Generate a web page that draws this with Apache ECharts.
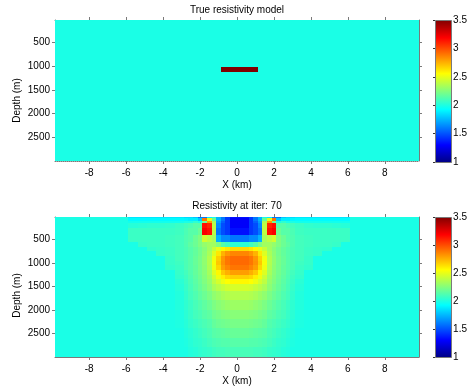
<!DOCTYPE html>
<html><head><meta charset="utf-8">
<script src="https://cdn.jsdelivr.net/npm/echarts@6/dist/echarts.min.js"></script>
<style>html,body{margin:0;padding:0;background:#fff}#c{width:470px;height:391px}</style>
</head><body><div id="c"></div>
<script>
// ---------- data ----------
const xTickValues = [-8, -6, -4, -2, 0, 2, 4, 6, 8];
const depthTickValues = [500, 1000, 1500, 2000, 2500];
const colorbarTickValues = [1, 1.5, 2, 2.5, 3, 3.5];
const xDomain = [-9.85, 9.85];
const depthDomain = [19, 3009];
const resRange = [1, 3.5];
const backgroundRes = 2.0;
// true model: anomalous block [x0, x1, depth0, depth1, value]
const trueBlock = [-0.875, 1.125, 1025, 1115, 3.5];

// inverted model mesh (km / m) and cell values (rows = depth, cols = x)
const invXEdges = [-5.875,-5.375,-4.875,-4.375,-3.875,-3.375,-2.875,-2.625,-2.375,-2.125,-1.875,-1.625,-1.375,-1.125,-0.875,-0.625,-0.375,-0.125,0.125,0.375,0.625,0.875,1.125,1.375,1.625,1.875,2.125,2.375,2.625,2.875,3.125,3.625,4.125,4.625,5.125,5.625,6.125];
const invDepthEdges = [0,50,100,150,250,400,550,650,750,850,950,1050,1150,1250,1350,1450,1600,1800,2000,2200,2400,2600,2800,3000];
const invValues = [
 [1.88,1.88,1.88,1.88,1.88,1.88,1.85,1.85,1.8,1.6,1.6,1.9,2.0,1.75,1.6,1.45,1.35,1.35, 1.35,1.35,1.45,1.6,1.75,2.0,1.9,1.6,1.6,1.8,1.85,1.85,1.88,1.88,1.88,1.88,1.88,1.88],
 [1.93,1.93,1.93,1.93,1.93,1.93,1.92,1.9,1.9,1.8,2.9,2.5,2.2,1.75,1.6,1.45,1.3,1.3, 1.3,1.3,1.45,1.6,1.75,2.2,2.5,2.9,1.8,1.9,1.9,1.92,1.93,1.93,1.93,1.93,1.93,1.93],
 [1.98,1.98,1.98,1.98,1.98,1.98,2.0,2.0,2.05,2.0,2.2,2.8,2.35,1.7,1.55,1.45,1.3,1.3, 1.3,1.3,1.45,1.55,1.7,2.35,2.8,2.2,2.0,2.05,2.0,2.0,1.98,1.98,1.98,1.98,1.98,1.98],
 [2.03,2.04,2.05,2.05,2.06,2.08,2.1,2.12,2.15,2.15,3.15,3.1,2.4,1.65,1.5,1.45,1.3,1.3, 1.3,1.3,1.45,1.5,1.65,2.4,3.1,3.15,2.15,2.15,2.12,2.1,2.08,2.06,2.05,2.05,2.04,2.03],
 [2.08,2.08,2.08,2.08,2.08,2.09,2.12,2.15,2.15,2.2,3.2,3.15,2.4,1.6,1.5,1.45,1.35,1.35, 1.35,1.35,1.45,1.5,1.6,2.4,3.15,3.2,2.2,2.15,2.15,2.12,2.09,2.08,2.08,2.08,2.08,2.08],
 [2.08,2.08,2.08,2.08,2.09,2.1,2.13,2.15,2.2,2.25,2.45,2.4,2.35,1.75,1.65,1.65,1.6,1.6, 1.6,1.6,1.65,1.65,1.75,2.35,2.4,2.45,2.25,2.2,2.15,2.13,2.1,2.09,2.08,2.08,2.08,2.08],
 [2.0,2.07,2.08,2.08,2.09,2.1,2.13,2.17,2.2,2.25,2.3,2.33,2.33,2.25,2.15,2.1,2.05,2.05, 2.05,2.05,2.1,2.15,2.25,2.33,2.33,2.3,2.25,2.2,2.17,2.13,2.1,2.09,2.08,2.08,2.07,2.0],
 [2.0,2.0,2.06,2.07,2.08,2.1,2.12,2.15,2.18,2.22,2.27,2.33,2.42,2.5,2.58,2.62,2.65,2.65, 2.65,2.65,2.62,2.58,2.5,2.42,2.33,2.27,2.22,2.18,2.15,2.12,2.1,2.08,2.07,2.06,2.0,2.0],
 [2.0,2.0,2.0,2.07,2.08,2.1,2.12,2.15,2.18,2.22,2.28,2.35,2.48,2.62,2.75,2.82,2.86,2.86, 2.86,2.86,2.82,2.75,2.62,2.48,2.35,2.28,2.22,2.18,2.15,2.12,2.1,2.08,2.07,2.0,2.0,2.0],
 [2.0,2.0,2.0,2.0,2.07,2.1,2.12,2.15,2.19,2.23,2.29,2.37,2.53,2.68,2.82,2.9,2.93,2.93, 2.93,2.93,2.9,2.82,2.68,2.53,2.37,2.29,2.23,2.19,2.15,2.12,2.1,2.07,2.0,2.0,2.0,2.0],
 [2.0,2.0,2.0,2.0,2.07,2.09,2.12,2.15,2.19,2.23,2.29,2.37,2.54,2.7,2.83,2.9,2.93,2.93, 2.93,2.93,2.9,2.83,2.7,2.54,2.37,2.29,2.23,2.19,2.15,2.12,2.09,2.07,2.0,2.0,2.0,2.0],
 [2.0,2.0,2.0,2.0,2.06,2.08,2.12,2.15,2.18,2.23,2.28,2.36,2.52,2.66,2.8,2.86,2.9,2.9, 2.9,2.9,2.86,2.8,2.66,2.52,2.36,2.28,2.23,2.18,2.15,2.12,2.08,2.06,2.0,2.0,2.0,2.0],
 [2.0,2.0,2.0,2.0,2.0,2.07,2.1,2.14,2.18,2.22,2.27,2.34,2.48,2.58,2.7,2.76,2.8,2.8, 2.8,2.8,2.76,2.7,2.58,2.48,2.34,2.27,2.22,2.18,2.14,2.1,2.07,2.0,2.0,2.0,2.0,2.0],
 [2.0,2.0,2.0,2.0,2.0,2.06,2.09,2.13,2.17,2.21,2.26,2.32,2.43,2.52,2.6,2.66,2.68,2.68, 2.68,2.68,2.66,2.6,2.52,2.43,2.32,2.26,2.21,2.17,2.13,2.09,2.06,2.0,2.0,2.0,2.0,2.0],
 [2.0,2.0,2.0,2.0,2.0,2.04,2.08,2.12,2.16,2.2,2.25,2.3,2.4,2.46,2.52,2.56,2.58,2.58, 2.58,2.58,2.56,2.52,2.46,2.4,2.3,2.25,2.2,2.16,2.12,2.08,2.04,2.0,2.0,2.0,2.0,2.0],
 [2.0,2.0,2.0,2.0,2.0,2.03,2.07,2.11,2.15,2.19,2.23,2.28,2.35,2.39,2.42,2.45,2.46,2.46, 2.46,2.46,2.45,2.42,2.39,2.35,2.28,2.23,2.19,2.15,2.11,2.07,2.03,2.0,2.0,2.0,2.0,2.0],
 [2.0,2.0,2.0,2.0,2.0,2.02,2.06,2.1,2.13,2.17,2.2,2.24,2.29,2.32,2.35,2.37,2.38,2.38, 2.38,2.38,2.37,2.35,2.32,2.29,2.24,2.2,2.17,2.13,2.1,2.06,2.02,2.0,2.0,2.0,2.0,2.0],
 [2.0,2.0,2.0,2.0,2.0,2.02,2.05,2.08,2.11,2.14,2.17,2.2,2.24,2.27,2.29,2.31,2.32,2.32, 2.32,2.32,2.31,2.29,2.27,2.24,2.2,2.17,2.14,2.11,2.08,2.05,2.02,2.0,2.0,2.0,2.0,2.0],
 [2.0,2.0,2.0,2.0,2.0,2.01,2.04,2.07,2.1,2.12,2.15,2.17,2.21,2.23,2.25,2.26,2.27,2.27, 2.27,2.27,2.26,2.25,2.23,2.21,2.17,2.15,2.12,2.1,2.07,2.04,2.01,2.0,2.0,2.0,2.0,2.0],
 [2.0,2.0,2.0,2.0,2.0,2.01,2.03,2.06,2.08,2.1,2.12,2.14,2.18,2.2,2.21,2.22,2.23,2.23, 2.23,2.23,2.22,2.21,2.2,2.18,2.14,2.12,2.1,2.08,2.06,2.03,2.01,2.0,2.0,2.0,2.0,2.0],
 [2.0,2.0,2.0,2.0,2.0,2.0,2.02,2.04,2.06,2.08,2.1,2.12,2.15,2.16,2.17,2.18,2.19,2.19, 2.19,2.19,2.18,2.17,2.16,2.15,2.12,2.1,2.08,2.06,2.04,2.02,2.0,2.0,2.0,2.0,2.0,2.0],
 [2.0,2.0,2.0,2.0,2.0,2.0,2.01,2.03,2.05,2.06,2.08,2.1,2.12,2.13,2.14,2.14,2.15,2.15, 2.15,2.15,2.14,2.14,2.13,2.12,2.1,2.08,2.06,2.05,2.03,2.01,2.0,2.0,2.0,2.0,2.0,2.0],
 [2.0,2.0,2.0,2.0,2.0,2.0,2.0,2.02,2.03,2.05,2.06,2.07,2.09,2.1,2.1,2.11,2.11,2.11, 2.11,2.11,2.11,2.1,2.1,2.09,2.07,2.06,2.05,2.03,2.02,2.0,2.0,2.0,2.0,2.0,2.0,2.0]
];
// jet colormap palette
const jetColors = ['#000080','#0000FF','#0080FF','#00FFFF','#80FF80','#FFFF00','#FF8000','#FF0000','#800000'];

// ---------- build series data ----------
const trueData = [
  [xDomain[0], xDomain[1], 0, 3010, backgroundRes],
  trueBlock
];
const invData = [[xDomain[0], xDomain[1], 0, 3010, backgroundRes]];
for (let r = 0; r < invValues.length; r++) {
  for (let c = 0; c < invValues[r].length; c++) {
    invData.push([invXEdges[c], invXEdges[c+1], invDepthEdges[r], invDepthEdges[r+1], invValues[r][c]]);
  }
}

const FONT = '"Liberation Sans", Arial, sans-serif';
const AXC = '#7a7a7a';
const plainNum = v => String(v);

function renderCell(params, api) {
  const p0 = api.coord([api.value(0), api.value(2)]);
  const p1 = api.coord([api.value(1), api.value(3)]);
  const x0 = Math.round(Math.min(p0[0], p1[0])), x1 = Math.round(Math.max(p0[0], p1[0]));
  const y0 = Math.round(Math.min(p0[1], p1[1])), y1 = Math.round(Math.max(p0[1], p1[1]));
  const cs = params.coordSys;
  const shape = echarts.graphic.clipRectByRect(
    {x: x0, y: y0, width: x1 - x0, height: y1 - y0},
    {x: cs.x, y: cs.y, width: cs.width, height: cs.height});
  if (!shape) return;
  return {type: 'rect', shape: shape, style: {fill: api.visual('color')}};
}

function renderColorbar(params, api) {
  const p0 = api.coord([0, api.value(1)]);
  const p1 = api.coord([1, api.value(2)]);
  const stops = jetColors.map((c, i) => ({offset: i / (jetColors.length - 1), color: c}));
  return {
    type: 'rect',
    shape: {x: Math.round(p0[0]) + 0.5, y: Math.round(p1[1]) + 0.5, width: Math.round(p1[0] - p0[0]), height: Math.round(p0[1] - p1[1])},
    style: {fill: new echarts.graphic.LinearGradient(0, 1, 0, 0, stops), stroke: AXC, lineWidth: 1}
  };
}

const grids = [
  {left: 55, top: 20, width: 364, height: 141},
  {left: 55, top: 217, width: 364, height: 140},
  {left: 435, top: 20, width: 19, height: 142},
  {left: 435, top: 217, width: 19, height: 140}
];

function xAxesFor(gi, dotted) {
  return [
    {gridIndex: gi, type: 'value', position: 'bottom', min: xDomain[0], max: xDomain[1],
     axisLine: {show: true, onZero: false, lineStyle: {color: AXC, width: 1, type: dotted ? 'dotted' : 'solid'}},
     axisTick: {show: true, length: 3, customValues: xTickValues, lineStyle: {color: AXC}},
     axisLabel: {show: true, customValues: xTickValues, formatter: plainNum, color: '#000', fontSize: 10, fontFamily: FONT, margin: 7},
     splitLine: {show: false}},
    {gridIndex: gi, type: 'value', position: 'top', min: xDomain[0], max: xDomain[1],
     axisLine: {show: true, onZero: false, lineStyle: {color: AXC, width: 1}},
     axisTick: {show: true, length: 3, customValues: xTickValues, lineStyle: {color: AXC}},
     axisLabel: {show: false}, splitLine: {show: false}}
  ];
}
function yAxesFor(gi) {
  return [
    {gridIndex: gi, type: 'value', position: 'left', inverse: true, min: depthDomain[0], max: depthDomain[1],
     axisLine: {show: true, onZero: false, lineStyle: {color: AXC, width: 1}},
     axisTick: {show: true, length: 3, customValues: depthTickValues, lineStyle: {color: AXC}},
     axisLabel: {show: true, customValues: depthTickValues, formatter: plainNum, color: '#000', fontSize: 10, fontFamily: FONT, margin: 5},
     splitLine: {show: false}},
    {gridIndex: gi, type: 'value', position: 'right', inverse: true, min: depthDomain[0], max: depthDomain[1],
     axisLine: {show: true, onZero: false, lineStyle: {color: AXC, width: 1}},
     axisTick: {show: true, length: 3, customValues: depthTickValues, lineStyle: {color: AXC}},
     axisLabel: {show: false}, splitLine: {show: false}}
  ];
}

const xAxis = [].concat(xAxesFor(0, true), xAxesFor(1, false),
  [{gridIndex: 2, type: 'value', min: 0, max: 1, show: false},
   {gridIndex: 3, type: 'value', min: 0, max: 1, show: false}]);
const cbY = gi => ({gridIndex: gi, type: 'value', position: 'right', min: resRange[0], max: resRange[1],
  axisLine: {show: false},
  axisTick: {show: true, inside: true, length: 2, customValues: colorbarTickValues, lineStyle: {color: '#333'}},
  axisLabel: {show: true, customValues: colorbarTickValues, formatter: plainNum, color: '#000', fontSize: 10, fontFamily: FONT, margin: 2},
  splitLine: {show: false}});
const yAxis = [].concat(yAxesFor(0), yAxesFor(1), [cbY(2), cbY(3)]);

const textStyle = (t, x, y, rot) => ({
  type: 'text', x: x, y: y, rotation: rot || 0, z: 100,
  style: {text: t, fill: '#000', font: '10px ' + FONT, align: 'center', verticalAlign: 'middle', textAlign: 'center', textVerticalAlign: 'middle'}
});

const option = {
  animation: false,
  backgroundColor: '#fff',
  grid: grids,
  xAxis: xAxis,
  yAxis: yAxis,
  visualMap: {type: 'continuous', show: false, min: resRange[0], max: resRange[1], dimension: 4,
              seriesIndex: [0, 1], inRange: {color: jetColors}},
  series: [
    {type: 'custom', xAxisIndex: 0, yAxisIndex: 0, renderItem: renderCell, data: trueData,
     encode: {x: [0, 1], y: [2, 3]}, silent: true},
    {type: 'custom', xAxisIndex: 2, yAxisIndex: 2, renderItem: renderCell, data: invData,
     encode: {x: [0, 1], y: [2, 3]}, silent: true},
    {type: 'custom', xAxisIndex: 4, yAxisIndex: 4, renderItem: renderColorbar, data: [[0, resRange[0], resRange[1]]], silent: true, z: 1},
    {type: 'custom', xAxisIndex: 5, yAxisIndex: 5, renderItem: renderColorbar, data: [[0, resRange[0], resRange[1]]], silent: true, z: 1}
  ],
  graphic: [
    textStyle('True resistivity model', 237, 10),
    textStyle('Resistivity at iter: 70', 237, 206.5),
    textStyle('X (km)', 237, 185.5),
    textStyle('X (km)', 237, 381.5),
    textStyle('Depth (m)', 17.5, 100.5, Math.PI / 2),
    textStyle('Depth (m)', 17.5, 295.5, Math.PI / 2)
  ]
};

const chart = echarts.init(document.getElementById('c'), null, {renderer: 'canvas'});
chart.setOption(option);
</script>
</body></html>
